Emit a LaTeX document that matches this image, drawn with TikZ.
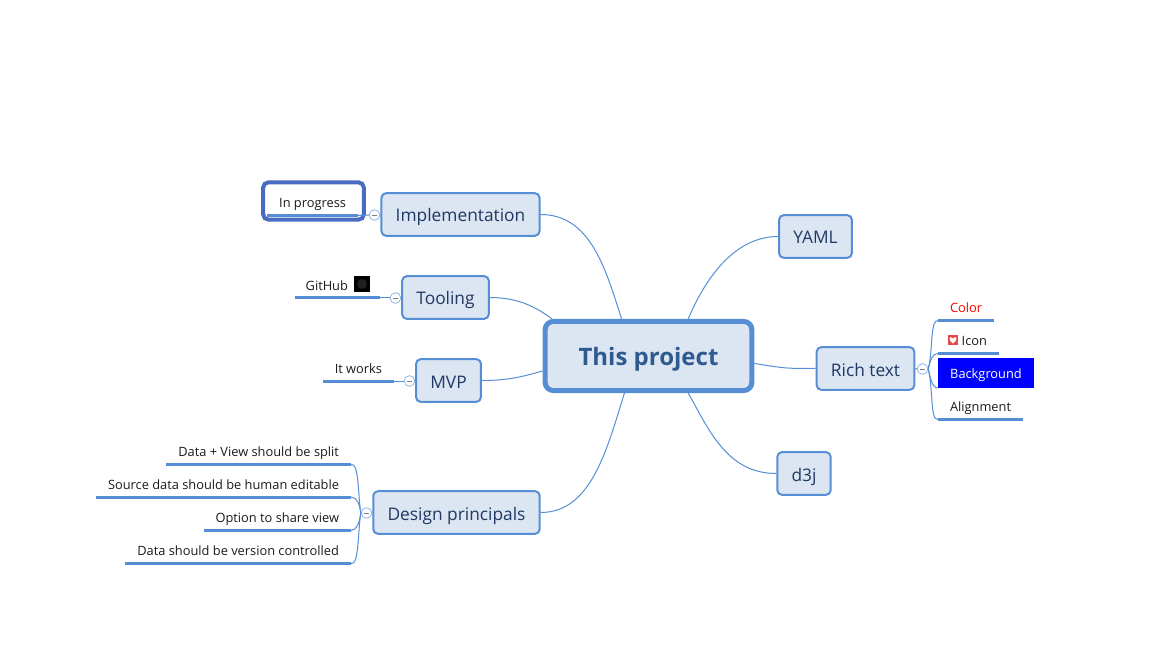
\documentclass[tikz,border=0pt]{standalone}
\usepackage{fontspec}
\setmainfont{Open Sans}
\definecolor{mapblue}{HTML}{558ED5}
\definecolor{mapfill}{HTML}{DCE6F2}
\definecolor{mapink}{HTML}{1F3864}
\definecolor{hubink}{HTML}{2F5A8F}
\definecolor{toggleblue}{HTML}{8DB3E8}
\definecolor{markblue}{HTML}{4A6CC0}
\definecolor{leafink}{HTML}{1A1A1A}
\definecolor{iconred}{HTML}{E8484A}
\begin{document}
\begin{tikzpicture}[%
      x=0.75pt,y=-0.75pt,
      hub/.style={rectangle,line width=3.75pt,draw=mapblue,fill=mapfill,rounded corners=6pt,text=hubink,minimum width=155pt,minimum height=51.75pt,text height=16.5pt,text depth=3pt,font=\fontsize{18}{22}\selectfont\bfseries},
      branch/.style={rectangle,line width=1.5pt,draw=mapblue,fill=mapfill,rounded corners=3.5pt,text=mapink,minimum height=32pt,inner xsep=10.7pt,text height=13.5pt,text depth=2.25pt,font=\fontsize{13}{16}\selectfont},
      leaf/.style={inner xsep=9pt,inner ysep=3.6pt,outer sep=0pt,text height=7.5pt,text depth=2.25pt,text=leafink,font=\fontsize{9.62}{12}\selectfont},
      leafrule/.style={line width=2.25pt,draw=mapblue},
      wire/.style={line width=0.75pt,draw=mapblue},
      toggle/.style={circle,line width=0.6pt,draw=toggleblue,fill=white,inner sep=0pt,minimum size=8pt,path picture={\draw[line width=0.5pt,gray] (path picture bounding box.center) +(-2.6,0) -- +(2.6,0);}}
      ]
      \useasboundingbox (0,0) rectangle (1164,670);
      \draw (648.5,356) node[hub] (P) {This project};
      \draw (460.5,214.5) node[branch] (I) {Implementation};
      \draw (445.5,297.5) node[branch] (T) {Tooling};
      \draw (448.5,380.5) node[branch] (M) {MVP};
      \draw (456.5,512.5) node[branch] (D) {Design principals};
      \draw (815.5,236.5) node[branch] (Y) {YAML};
      \draw (865.5,368.5) node[branch] (R) {Rich text};
      \draw (804,473.5) node[branch] (J) {d3j};
      \draw (374.5,215) node[toggle] (tI) {};
      \draw (395.5,298) node[toggle] (tT) {};
      \draw (409.5,381) node[toggle] (tM) {};
      \draw (366.5,513) node[toggle] (tD) {};
      \draw (922.5,369) node[toggle] (tR) {};
      \draw (313.5,201) node[rectangle,line width=3pt,draw=markblue,rounded corners=4pt,minimum width=75.5pt,minimum height=28pt] (mark) {};
      \draw (358,215.5) node[leaf,anchor=south east] (l1) {In progress};
      \draw (380,298) node[leaf,anchor=south east,text width=47.5pt,align=left,inner xsep=8.25pt] (l2) {GitHub};
      \draw (394,381) node[leaf,anchor=south east] (l3) {It works};
      \draw (351,464.5) node[leaf,anchor=south east] (l4) {Data + View should be split};
      \draw (351,497) node[leaf,anchor=south east] (l5) {Source data should be human editable};
      \draw (351,530.5) node[leaf,anchor=south east] (l6) {Option to share view};
      \draw (351,563.5) node[leaf,anchor=south east] (l7) {Data should be version controlled};
      \draw (938,320.5) node[leaf,anchor=south west,text=red] (r1) {Color};
      \draw (938,353.5) node[leaf,anchor=south west,text width=27.75pt,align=right] (r2) {Icon};
      \draw (938,388) node[leaf,anchor=south west,text=white,fill=blue,minimum height=22.5pt,minimum width=72pt,inner ysep=0pt,text height=10.5pt] (r3) {Background};
      \draw (938,419.5) node[leaf,anchor=south west] (r4) {Alignment};
      \draw (362,284) node[rectangle,fill=black,inner sep=0pt,minimum size=12pt] (gh) {};
      \fill[black!88] (gh) circle (5);
      \draw (953,340) node[rectangle,fill=iconred,inner sep=0pt,minimum size=7.5pt] (hrt) {};
      \fill[white,shift={(hrt.center)}] (0,3.5) .. controls (-6,-1) and (-3,-5) .. (0,-1.5) .. controls (3,-5) and (6,-1) .. (0,3.5) -- cycle;
      \foreach \n in {l1,l2,l3,l4,l5,l6,l7,r1,r2,r4}
        \draw[leafrule] (\n.south west) -- (\n.south east);
      \draw[wire] (I.east) .. controls +(50,0) and +(-16,-50) .. (P.126);
      \draw[wire] (T.east) .. controls +(28,0) and +(-16,-12) .. (P.159);
      \draw[wire] (M.east) .. controls +(25,0) and +(-20,6) .. (P.188);
      \draw[wire] (D.east) .. controls +(50,0) and +(-18,58) .. (P.237);
      \draw[wire] (Y.west) .. controls +(-45,0) and +(16,-38) .. (P.43.5);
      \draw[wire] (R.west) .. controls +(-30,0) and +(30,5) .. (P.-4.3);
      \draw[wire] (J.west) .. controls +(-50,0) and +(20,35) .. (P.-43.5);
      \draw[wire] (I.west) -- (tI);
      \draw[wire] (T.west) -- (tT);
      \draw[wire] (M.west) -- (tM);
      \draw[wire] (D.west) -- (tD);
      \draw[wire] (R.east) -- (tR);
      \draw[wire] (tI.west) -- (l1.south east);
      \draw[wire] (tT.west) -- (l2.south east);
      \draw[wire] (tM.west) -- (l3.south east);
      \draw[wire] (tD.west) .. controls +(-3,-20) and +(8,-2) .. (l4.south east);
      \draw[wire] (tD.west) .. controls +(-1,-8) and +(6,0) .. (l5.south east);
      \draw[wire] (tD.west) .. controls +(-1,8) and +(6,0) .. (l6.south east);
      \draw[wire] (tD.west) .. controls +(-3,20) and +(8,2) .. (l7.south east);
      \draw[wire] (tR.east) .. controls +(5,-20) and +(-8,-1) .. (r1.south west);
      \draw[wire] (tR.east) .. controls +(2,-8) and +(-6,0) .. (r2.south west);
      \draw[wire] (tR.east) .. controls +(2,8) and +(-6,0) .. (r3.south west);
      \draw[wire] (tR.east) .. controls +(5,20) and +(-8,1) .. (r4.south west);
    \end{tikzpicture}
\end{document}
